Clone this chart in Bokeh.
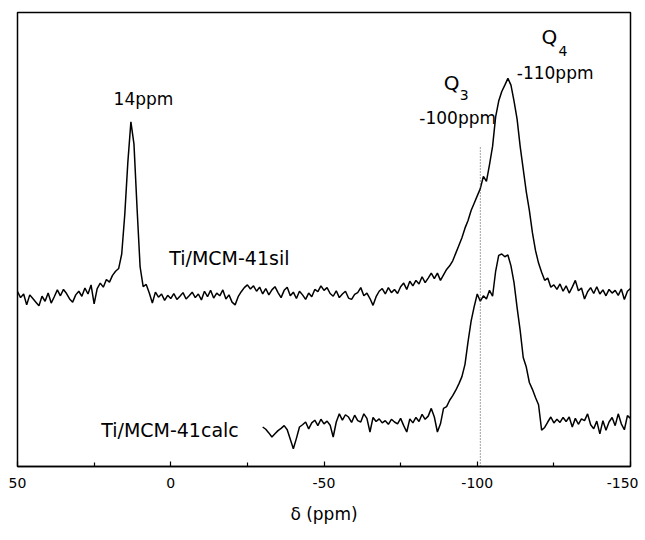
from bokeh.plotting import figure
from bokeh.models import Range1d, FixedTicker, ColumnDataSource
from bokeh.core.properties import value
from bokeh.embed import file_html
from bokeh.resources import INLINE

# ---- data (chemical shift in ppm, intensity in arbitrary units) ----
sil_ppm = list(range(50, -151, -1))
sil_int = [
    38.5, 37.2, 38.0, 35.6, 37.8, 37.0, 36.2, 35.4, 37.5, 36.4,   # 50..41
    38.2, 36.0, 37.4, 38.9, 37.6, 39.0, 38.1, 36.9, 36.2, 37.8,   # 40..31
    38.6, 37.5, 39.3, 38.0, 40.0, 35.8, 39.2, 40.4, 39.5, 41.2,   # 30..21
    40.6, 42.1, 43.0, 43.6, 46.8, 55.5, 67.0, 75.9, 71.0, 57.0,   # 20..11
    44.0, 39.6, 40.1, 38.2, 36.0, 38.4, 37.3, 38.0, 36.6, 37.7,   # 10..1
    37.0, 38.1, 36.8, 37.5, 38.3, 36.9, 37.6, 38.4, 37.2, 38.0,   # 0..-9
    36.7, 38.6, 37.4, 38.8, 37.1, 38.2, 37.6, 38.9, 36.9, 37.8,   # -10..-19
    36.2, 35.6, 37.4, 38.5, 39.4, 40.0, 39.1, 39.8, 38.6, 39.5,   # -20..-29
    38.0, 39.2, 37.8, 38.9, 39.6, 38.3, 37.2, 38.8, 39.5, 37.6,   # -30..-39
    38.4, 37.0, 38.6, 37.8, 36.8, 38.2, 37.4, 39.0, 38.5, 39.8,   # -40..-49
    38.8, 39.4, 38.1, 37.5, 38.7, 37.2, 38.0, 38.6, 37.1, 36.8,   # -50..-59
    37.9, 38.3, 39.4, 37.6, 38.2, 37.0, 35.5, 37.4, 38.6, 39.2,   # -60..-69
    38.0, 39.4, 38.3, 39.0, 38.1, 39.6, 40.4, 39.0, 40.8, 39.8,   # -70..-79
    41.0, 40.2, 41.8, 40.5, 41.5, 42.6, 41.4, 42.6, 41.0, 42.2,   # -80..-89
    43.4, 44.2, 45.3, 47.0, 48.7, 50.4, 52.5, 54.2, 56.4, 58.0,   # -90..-99
    59.6, 61.2, 63.9, 62.8, 66.5, 70.5, 77.0, 80.5, 82.6, 84.0,   # -100..-109
    85.5, 84.0, 80.5, 76.5, 70.5, 65.5, 60.5, 56.4, 51.5, 47.6,   # -110..-119
    44.8, 42.8, 41.0, 41.5, 39.5, 40.0, 39.0, 40.2, 38.6, 39.8,   # -120..-129
    38.2, 39.5, 41.0, 38.7, 39.3, 36.9, 38.5, 39.4, 38.1, 39.6,   # -130..-139
    38.0, 38.9, 37.6, 39.0, 38.2, 38.8, 37.7, 39.1, 36.8, 38.6,   # -140..-149
    39.2,                                                         # -150
]

calc_ppm = list(range(-30, -151, -1))
calc_int = [
    8.7, 8.2, 7.4, 6.5, 7.2, 7.9, 8.4, 9.0, 8.1, 6.0,             # -30..-39
    3.9, 6.2, 8.7, 9.2, 9.8, 8.3, 9.6, 10.2, 9.0, 10.4,           # -40..-49
    9.4, 10.0, 9.1, 6.5, 9.8, 11.6, 10.2, 11.4, 10.9, 9.7,        # -50..-59
    11.3, 10.1, 9.8, 11.6, 10.6, 7.6, 10.8, 9.9, 10.5, 9.6,       # -60..-69
    10.1, 9.3, 10.4, 9.8, 9.4, 10.6, 9.0, 7.6, 10.5, 9.6,         # -70..-79
    10.8, 9.9, 11.5, 10.4, 11.1, 12.8, 10.9, 7.6, 9.4, 12.8,      # -80..-89
    13.2, 14.6, 15.6, 16.8, 18.2, 19.8, 22.5, 27.5, 32.0, 35.2,   # -90..-99
    38.0, 36.4, 37.6, 36.9, 38.8, 37.5, 43.0, 46.5, 46.8, 46.2,   # -100..-109
    46.6, 44.2, 40.5, 35.0, 30.0, 24.0, 21.9, 18.5, 17.0, 15.2,   # -110..-119
    13.6, 8.0, 8.6, 9.8, 10.9, 9.6, 10.4, 9.7, 10.8, 9.9,         # -120..-129
    10.9, 8.7, 10.6, 9.3, 10.5, 10.1, 11.6, 9.2, 8.3, 10.0,       # -130..-139
    7.2, 10.1, 8.0, 9.8, 10.8, 9.0, 11.6, 9.4, 8.1, 11.2,         # -140..-149
    10.6,                                                         # -150
]

# reference marker for Q3 position
marker_ppm = [-101, -101]
marker_int = [0, 70.4]

x_ticks = [50, 0, -50, -100, -150]
x_tick_labels = ["50", "0", "-50", "-100", "-150"]
x_minor = [25, -25, -75, -125]

# annotation texts
peak_text = ["14ppm"]
peak_x = [8.9]
peak_y = [81.0]

label_text = ["-100ppm", "-110ppm"]
label_x = [-81.1, -112.9]
label_y = [76.8, 86.7]

sample_text = ["Ti/MCM-41sil", "Ti/MCM-41calc"]
sample_x = [0.5, 22.7]
sample_y = [46.0, 8.1]

q_text = ["Q", "Q"]
q_x = [-89.1, -121.0]
q_y = [84.4, 94.6]
sub_text = ["3", "4"]
sub_x = [-94.3, -126.5]
sub_y = [81.8, 91.6]

FONT = "DejaVu Sans"

p = figure(width=638, height=533, output_backend="svg", toolbar_location=None,
           x_range=Range1d(50, -150), y_range=Range1d(0, 100),
           y_axis_location=None,
           min_border_left=17, min_border_right=8, min_border_top=12, min_border_bottom=67)

p.background_fill_color = "white"
p.border_fill_color = "white"
p.grid.visible = False
p.outline_line_color = "black"
p.outline_line_width = 1.5

xa = p.xaxis[0]
xa.ticker = FixedTicker(ticks=x_ticks, minor_ticks=x_minor)
xa.major_label_overrides = {t: s for t, s in zip(x_ticks, x_tick_labels)}
xa.major_tick_in = 5
xa.major_tick_out = 0
xa.minor_tick_in = 4
xa.minor_tick_out = 0
xa.axis_line_width = 1.5
xa.major_tick_line_width = 1.2
xa.minor_tick_line_width = 1.2
xa.major_label_text_font = FONT
xa.major_label_text_font_size = "14px"
xa.major_label_text_color = "black"
xa.major_label_standoff = 11
xa.axis_label = "δ (ppm)"
xa.axis_label_text_font = FONT
xa.axis_label_text_font_style = "normal"
xa.axis_label_text_font_size = "17px"
xa.axis_label_text_color = "black"
xa.axis_label_standoff = 13

p.line(sil_ppm, sil_int, line_color="black", line_width=1.5)
p.line(calc_ppm, calc_int, line_color="black", line_width=1.5)
p.line(marker_ppm, marker_int, line_color="#444444", line_width=1, line_dash="1 2")

src_p = ColumnDataSource(dict(x=peak_x, y=peak_y, t=peak_text))
p.text(x="x", y="y", text="t", source=src_p, text_font=value(FONT),
       text_font_size=value("17px"), text_baseline="middle", text_align="center",
       text_color="black")

src_l = ColumnDataSource(dict(x=label_x, y=label_y, t=label_text))
p.text(x="x", y="y", text="t", source=src_l, text_font=value(FONT),
       text_font_size=value("17px"), text_baseline="middle", text_align="left",
       text_color="black")

src_s = ColumnDataSource(dict(x=sample_x, y=sample_y, t=sample_text))
p.text(x="x", y="y", text="t", source=src_s, text_font=value(FONT),
       text_font_size=value("19px"), text_baseline="middle", text_align="left",
       text_color="black")

src_q = ColumnDataSource(dict(x=q_x, y=q_y, t=q_text))
p.text(x="x", y="y", text="t", source=src_q, text_font=value(FONT),
       text_font_size=value("20px"), text_baseline="middle", text_align="left",
       text_color="black")

src_sub = ColumnDataSource(dict(x=sub_x, y=sub_y, t=sub_text))
p.text(x="x", y="y", text="t", source=src_sub, text_font=value(FONT),
       text_font_size=value("14px"), text_baseline="middle", text_align="left",
       text_color="black")

open("out.html", "w").write(file_html(p, INLINE))
